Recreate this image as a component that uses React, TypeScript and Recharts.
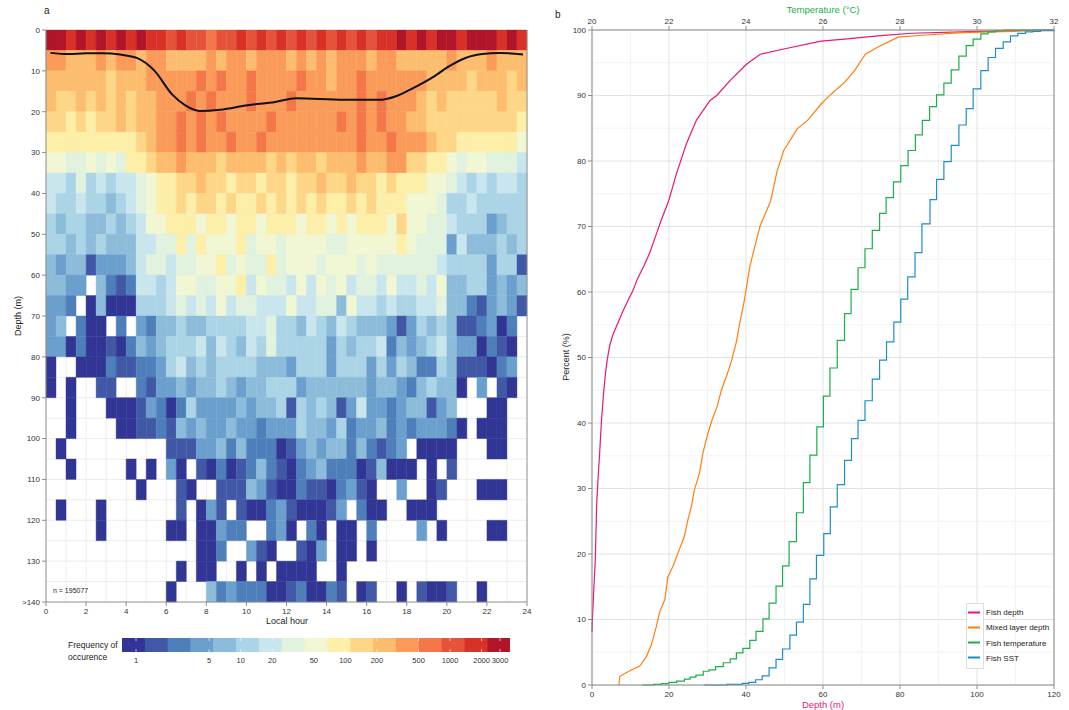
import React from 'react'
import { ComposedChart, Bar, Cell, Line, XAxis, YAxis, CartesianGrid, ReferenceLine } from 'recharts'

const FONT = '"Liberation Sans", Arial, Helvetica, sans-serif'

// ---- panel a: frequency of occurrence by local hour and depth ----
const hourBins = Array.from({ length: 48 }, (_, i) => i / 2)
const depthBins = [0, 5, 10, 15, 20, 25, 30, 35, 40, 45, 50, 55, 60, 65, 70, 75, 80, 85, 90, 95, 100, 105, 110, 115, 120, 125, 130, 135]
const binHeight = 5
const hourTicks = [0, 2, 4, 6, 8, 10, 12, 14, 16, 18, 20, 22, 24]
const hourGrid = [1, 2, 3, 4, 5, 6, 7, 8, 9, 10, 11, 12, 13, 14, 15, 16, 17, 18, 19, 20, 21, 22, 23]
const depthTicks = [0, 10, 20, 30, 40, 50, 60, 70, 80, 90, 100, 110, 120, 130, 140]
const depthGrid = [5, 10, 15, 20, 25, 30, 35, 40, 45, 50, 55, 60, 65, 70, 75, 80, 85, 90, 95, 100, 105, 110, 115, 120, 125, 130, 135]

// colour class per cell, '.' = no record
const levelKey = '0123456789abcdefg'
const levelColors = ['#313695', '#4158a6', '#4f7fbb', '#6b9fcd', '#8cbcda', '#abd4e6', '#c9e6ee', '#e1f2df', '#f1f6d3', '#fdeea8', '#fed687', '#fdbd6f', '#fa9b59', '#f4774a', '#e5533a', '#d73128', '#b0152a']
const freqRows = [
  ['ggfgfgfg', 'fgffefee', 'deefefef', 'efefefef', 'effgfgfg', 'gfgggfgf'],
  ['ccbbbcbc', 'cbccbbbb', 'cbccbccc', 'bcbcbccc', 'bccbbbbb', 'cbbbcbbb'],
  ['bbbbbbab', 'bbcccccd', 'cdccdccc', 'cdccbccd', 'ccccccbb', 'bbabbbab'],
  ['baababab', 'abbcccdc', 'dcccdccc', 'dccccccd', 'cdcccbab', 'aaaaabaa'],
  ['aa9a9aab', 'abbccdcd', 'cdccccdc', 'cccccdcd', 'cdccbbaa', 'aaaaaaa9'],
  ['99999999', '9abccdcd', 'ccdccdcc', 'cccccccd', 'ccdcccba', 'a9999998'],
  ['88778787', '99abbcbb', 'babbbbab', 'abbabbbc', 'bbccaa99', '87887776'],
  ['66575656', '67899aab', 'aa9aa9aa', '9aabaaba', 'a9a99988', '76565665'],
  ['65565545', '67899a9a', 'a9a99a9a', '9a9a99a9', 'a9998887', '55655555'],
  ['54554454', '56889998', '99899899', '98998989', '998a8877', '65553455'],
  ['55454544', '46677979', '88897887', '88887788', '88898777', '36444545'],
  ['43441333', '46776778', '89787797', '88878887', '87777776', '55553551'],
  ['4433.421', '26656887', '78896877', '68687867', '76866768', '44553434'],
  ['332.0400', '05556767', '68677666', '86677486', '65655667', '44213431'],
  ['34.200.2', '.3244544', '55556675', '54654654', '44313545', '4112302.'],
  ['33020010', '24345556', '46546575', '55553545', '56243456', '4330210.'],
  ['0..00021', '12235645', '45555444', '35553555', '35354225', '4111023.'],
  ['0.0..11.', '.2133434', '45434455', '53444444', '34432454', '40.3.10.'],
  ['..0...00', '01320253', '33343445', '15454136', '33234413', '4...00..'],
  ['..0....0', '01121434', '33433233', '35443523', '34232333', '20.000..'],
  ['.0......', '....1113', '34242220', '13434424', '2123.000', '0...00..'],
  ['..0.....', '0.0.30.1', '02012421', '02342220', '14000.0.', '1.......'],
  ['........', '.0...10.', '.1114310', '02110231', '0..3..01', '...000..'],
  ['.0...0..', '.....1.0', '31.10023', '100013.2', '00..000.', '........'],
  ['.....0..', '....00.0', '0322..23', '0.20.00.', '2....3.0', '....00..'],
  ['........', '.......0', '02..310.', '.103.00.', '0.......', '........'],
  ['........', '.....0.0', '0..0.0.0', '000..0..', '........', '........'],
  ['........', '....0...', '42322200', '120021.0', '1..0.100', '1..0....'],
].map((g) => g.join(''))

// mean mixed layer depth by hour (black line)
const mldHour = [0.22, 1.1, 2.0, 2.84, 3.7, 4.56, 5.42, 6.28, 6.97, 7.66, 8.69, 10.06, 11.44, 12.47, 14.88, 16.6, 17.46, 18.32, 19.35, 20.04, 20.9, 21.76, 22.62, 23.8]
const mldDepth = [5.6, 5.9, 5.7, 5.7, 6.0, 6.9, 10.0, 15.7, 18.5, 19.8, 19.5, 18.4, 17.6, 16.7, 17.1, 17.1, 16.2, 14.2, 11.4, 9.1, 6.9, 5.9, 5.6, 6.0]

const freqTicks = [1, 5, 10, 20, 50, 100, 200, 500, 1000, 2000, 3000]

// ---- panel b: cumulative distributions ----
const fishDepthX = [0, 0.17, 0.52, 0.87, 1.21, 1.56, 1.99, 2.42, 2.94, 3.46, 3.98, 4.59, 5.45, 6.75, 8.05, 9.35, 10.6, 11.8, 13.5, 15, 16.5, 18, 19.9, 21.9, 24.5, 27.1, 30.6, 32.4, 35.9, 40.2, 43.7, 49.8, 59.5, 65.6, 74.3, 83, 100.5, 120]
const fishDepthP = [8.1, 10.9, 15.2, 19.3, 27.6, 31.4, 35.4, 40, 44.1, 47.4, 49.7, 51.8, 53.5, 55.3, 57.1, 58.7, 60.2, 62, 64, 66, 68.5, 71, 73.9, 78, 82.6, 86.2, 89.2, 90, 92.3, 94.8, 96.3, 97.1, 98.3, 98.6, 99.1, 99.5, 99.8, 100]
const mldX = [7.0, 7.2, 8.05, 10.2, 12.4, 14.1, 15.4, 16.7, 17.6, 18.9, 19.7, 21, 22.3, 24, 24.9, 25.8, 26.6, 27.9, 28.8, 30.1, 31.2, 32.5, 33.6, 34.9, 36.2, 37.5, 38.3, 39.6, 41, 43.6, 46.4, 48.1, 49.8, 53.3, 56, 59.5, 62.1, 65.6, 68.2, 71, 74.3, 79.5, 85.7, 96.1, 109.3, 120]
const mldP = [0, 1.3, 1.6, 2.3, 2.9, 4.3, 6.1, 8.9, 11.2, 13, 16.5, 18.1, 20.1, 22.7, 25.2, 27.2, 29.8, 32.3, 35.4, 38.4, 40.5, 42.5, 45, 47.1, 49.4, 52.4, 55, 58.8, 63.9, 70, 73.9, 78.5, 81.6, 84.9, 86.2, 88.7, 90.2, 92, 93.8, 96.3, 97.4, 98.9, 99.2, 99.6, 99.8, 100]
const fishTempX = [21.3, 21.6, 21.8, 22.0, 22.2, 22.4, 22.55, 22.7, 22.89, 23.04, 23.21, 23.41, 23.59, 23.75, 23.92, 24.1, 24.26, 24.44, 24.6, 24.78, 24.95, 25.12, 25.31, 25.49, 25.66, 25.84, 26.01, 26.18, 26.37, 26.56, 26.73, 26.91, 27.09, 27.28, 27.47, 27.64, 27.83, 28.02, 28.21, 28.4, 28.58, 28.77, 28.95, 29.14, 29.33, 29.53, 29.72, 29.9, 30.1, 30.29, 30.48, 30.7, 32]
const fishTempP = [0, 0.1, 0.2, 0.4, 0.6, 0.9, 1.2, 1.5, 2.1, 2.3, 2.8, 3.4, 4.0, 4.9, 5.6, 6.8, 8.2, 10.1, 12.5, 15.1, 18.2, 21.9, 26.3, 30.9, 35.1, 39.4, 44.1, 48.4, 52.6, 56.7, 60.4, 63.7, 66.6, 69.4, 72.0, 74.4, 76.8, 79.3, 81.6, 84.0, 86.2, 88.3, 90.1, 91.9, 93.9, 96.0, 97.6, 98.6, 99.4, 99.7, 99.9, 100, 100]
const sstX = [22.9, 23.5, 23.9, 24.08, 24.25, 24.42, 24.6, 24.78, 24.95, 25.14, 25.31, 25.49, 25.66, 25.83, 26.02, 26.19, 26.37, 26.56, 26.74, 26.91, 27.09, 27.28, 27.47, 27.65, 27.84, 28.02, 28.2, 28.39, 28.57, 28.78, 28.95, 29.14, 29.33, 29.53, 29.72, 29.9, 30.1, 30.29, 30.48, 30.68, 30.87, 31.06, 31.26, 31.45, 31.65, 32]
const sstP = [0, 0.1, 0.25, 0.4, 0.8, 1.4, 2.6, 3.9, 5.5, 7.6, 9.6, 12.3, 16.2, 19.8, 23.1, 27.2, 30.6, 34.3, 37.6, 40.4, 43.4, 46.7, 49.6, 52.4, 55.4, 58.9, 62.3, 66.0, 70.4, 74.1, 77.2, 79.9, 82.4, 85.5, 88.0, 91.0, 93.8, 95.8, 97.2, 98.2, 99.1, 99.5, 99.7, 99.8, 99.9, 100]

const depthAxisTicks = [0, 20, 40, 60, 80, 100, 120]
const tempAxisTicks = [20, 22, 24, 26, 28, 30, 32]
const pctTicks = [0, 10, 20, 30, 40, 50, 60, 70, 80, 90, 100]
const pctMinor = [5, 15, 25, 35, 45, 55, 65, 75, 85, 95]
const depthMinor = [10, 30, 50, 70, 90, 110]

const series = [
  { name: 'Fish depth', color: '#e5177a' },
  { name: 'Mixed layer depth', color: '#ff7f0e' },
  { name: 'Fish temperature', color: '#1aaf4a' },
  { name: 'Fish SST', color: '#1f8dc6' },
]

const zip = (xs: number[], ps: number[]) => xs.map((x, i) => ({ x, p: ps[i] }))

const heatData = hourBins.map((h) => {
  const o: Record<string, number> = { h }
  depthBins.forEach((_, r) => { o['r' + r] = binHeight })
  return o
})
const mldData = mldHour.map((h, i) => ({ h, d: mldDepth[i] }))

const tickStyle = { fontSize: 8, fill: '#333', fontFamily: FONT }
const axisGrey = '#8c8c8c'

function HeatPanel() {
  return (
    <ComposedChart width={540} height={630} data={heatData} barCategoryGap={0} barGap={0}
      margin={{ top: 30, right: 13, bottom: 8, left: 16 }}>
      <CartesianGrid xAxisId="num" stroke="#ececec" verticalValues={hourGrid} horizontalValues={depthGrid} />
      <XAxis xAxisId="cat" dataKey="h" type="category" orientation="top" height={0} hide />
      <XAxis xAxisId="num" dataKey="h" type="number" domain={[0, 24]} ticks={hourTicks} height={20}
        tick={tickStyle} tickSize={4} tickLine={{ stroke: axisGrey }} axisLine={{ stroke: axisGrey }} />
      <YAxis type="number" domain={[0, 140]} reversed ticks={depthTicks} width={30} interval={0}
        tickFormatter={(v: number) => (v === 140 ? '>140' : String(v))}
        tick={tickStyle} tickSize={4} tickLine={{ stroke: axisGrey }} axisLine={{ stroke: axisGrey }} />
      {freqRows.map((row, r) => (
        <Bar key={r} xAxisId="cat" dataKey={'r' + r} stackId="s" isAnimationActive={false}>
          {hourBins.map((_, c) => {
            const k = row[c]
            const col = k === '.' || k === undefined ? 'none' : levelColors[levelKey.indexOf(k)]
            return <Cell key={c} fill={col} stroke={col} strokeWidth={0.4} />
          })}
        </Bar>
      ))}
      <ReferenceLine xAxisId="num" x={24} stroke={axisGrey} />
      <Line xAxisId="num" data={mldData} dataKey="d" type="monotone" stroke="#111" strokeWidth={2}
        dot={false} isAnimationActive={false} />
    </ComposedChart>
  )
}

function CdfPanel() {
  const datas = [zip(fishDepthX, fishDepthP), zip(mldX, mldP), zip(fishTempX, fishTempP), zip(sstX, sstP)]
  return (
    <ComposedChart width={529} height={710} margin={{ top: 12, right: 15, bottom: 8, left: 22 }}>
      <CartesianGrid xAxisId="depth" stroke="#f3f3f3" verticalValues={depthMinor} horizontalValues={pctMinor} />
      <CartesianGrid xAxisId="depth" stroke="#e2e2e2" verticalValues={depthAxisTicks} horizontalValues={pctTicks} />
      <XAxis xAxisId="depth" dataKey="x" type="number" domain={[0, 120]} ticks={depthAxisTicks} height={17}
        tick={tickStyle} tickSize={4} tickLine={{ stroke: axisGrey }} axisLine={{ stroke: axisGrey }} />
      <XAxis xAxisId="temp" dataKey="x" type="number" orientation="top" domain={[20, 32]} ticks={tempAxisTicks} height={18}
        tick={tickStyle} tickSize={4} tickLine={{ stroke: axisGrey }} axisLine={{ stroke: axisGrey }} />
      <YAxis type="number" domain={[0, 100]} ticks={pctTicks} width={30} interval={0}
        tick={tickStyle} tickSize={4} tickLine={{ stroke: axisGrey }} axisLine={{ stroke: axisGrey }} />
      <ReferenceLine xAxisId="depth" x={120} stroke={axisGrey} />
      {datas.map((d, i) => (
        <Line key={series[i].name} name={series[i].name} xAxisId={i < 2 ? 'depth' : 'temp'} data={d} dataKey="p"
          type={i < 2 ? 'linear' : 'stepAfter'} stroke={series[i].color} strokeWidth={1.2}
          dot={false} isAnimationActive={false} />
      ))}
    </ComposedChart>
  )
}

function ColorBar() {
  const w = 388
  const seg = w / levelColors.length
  const pos = (v: number) => 14 + 104.7 * Math.log10(v)
  return (
    <div style={{ position: 'absolute', left: 122, top: 638, width: w, height: 30 }}>
      <svg width={w} height={14} style={{ display: 'block' }}>
        {levelColors.map((c, i) => <rect key={i} x={i * seg} y={0} width={seg + 0.5} height={14} fill={c} />)}
        {freqTicks.map((v) => (
          <g key={v} stroke="#fff" strokeWidth={0.8} opacity={0.8}>
            <line x1={pos(v)} x2={pos(v)} y1={0} y2={3} />
            <line x1={pos(v)} x2={pos(v)} y1={11} y2={14} />
          </g>
        ))}
      </svg>
      {freqTicks.map((v) => (
        <div key={v} style={{ position: 'absolute', left: pos(v) - 20, width: 40, top: 18, textAlign: 'center', fontSize: 7.5, color: '#333' }}>{v}</div>
      ))}
    </div>
  )
}

export default function App() {
  const txt = (s: React.CSSProperties): React.CSSProperties => ({ position: 'absolute', whiteSpace: 'nowrap', ...s })
  return (
    <div style={{ position: 'absolute', left: 0, top: 0, width: 1069, height: 710, background: '#fff', fontFamily: FONT, color: '#222', overflow: 'hidden' }}>
      <div style={{ position: 'absolute', left: 0, top: 0 }}><HeatPanel /></div>
      <div style={{ position: 'absolute', left: 540, top: 0 }}><CdfPanel /></div>

      <div style={txt({ left: 44, top: 5, fontSize: 10 })}>a</div>
      <div style={txt({ left: 555, top: 9, fontSize: 10 })}>b</div>

      <div style={txt({ left: 18, top: 316, fontSize: 9, transform: 'translate(-50%,-50%) rotate(-90deg)' })}>Depth (m)</div>
      <div style={txt({ left: 287, top: 621, fontSize: 9, transform: 'translate(-50%,-50%)' })}>Local hour</div>
      <div style={txt({ left: 53, top: 587, fontSize: 7 })}>n = 195077</div>

      <div style={txt({ left: 68, top: 639, fontSize: 8.5, lineHeight: '12px' })}>Frequency of<br />occurence</div>
      <ColorBar />

      <div style={txt({ left: 823, top: 9, fontSize: 9.5, color: '#1aaf4a', transform: 'translate(-50%,-50%)' })}>Temperature (°C)</div>
      <div style={txt({ left: 823, top: 704, fontSize: 9.5, color: '#e5177a', transform: 'translate(-50%,-50%)' })}>Depth (m)</div>
      <div style={txt({ left: 566, top: 357, fontSize: 9, transform: 'translate(-50%,-50%) rotate(-90deg)' })}>Percent (%)</div>

      <div style={{ position: 'absolute', left: 966, top: 603, width: 16, height: 64, border: '1px solid #ddd', background: '#fff' }} />
      {series.map((s, i) => (
        <div key={s.name} style={txt({ left: 968, top: 612 + i * 15.3, transform: 'translateY(-50%)', display: 'flex', alignItems: 'center', fontSize: 8 })}>
          <span style={{ display: 'inline-block', width: 12, height: 2, background: s.color, marginRight: 6 }} />
          {s.name}
        </div>
      ))}
    </div>
  )
}
